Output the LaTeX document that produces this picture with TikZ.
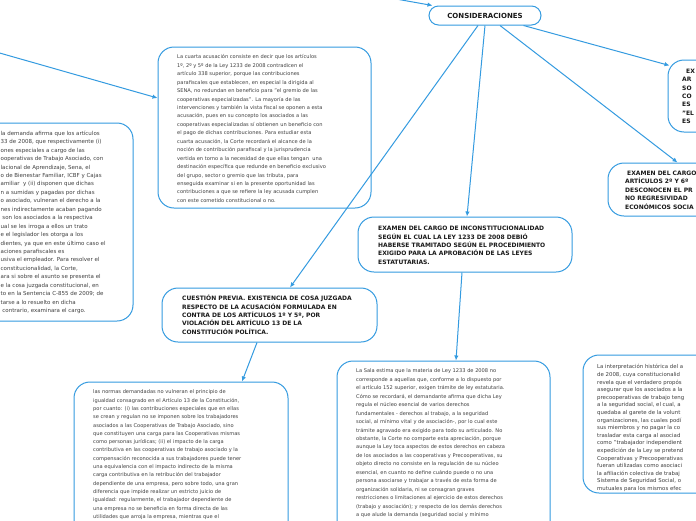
\documentclass[tikz,border=0pt]{standalone}
\usepackage{fontspec}
\setmainfont{DejaVu Sans}
\usetikzlibrary{arrows.meta,calc}
\definecolor{mmblue}{RGB}{52,155,224}
\definecolor{mmtext}{RGB}{64,64,64}
\begin{document}
\begin{tikzpicture}[x=1pt,y=-1pt,
  box/.style={draw=mmblue, line width=1pt, rounded corners=16pt, inner sep=0pt, fill=white},
  body/.style={font=\fontsize{5.1}{8.45}\selectfont, text=mmtext, align=left, inner sep=0pt, anchor=north west},
  leftbody/.style={font=\fontsize{5.5}{8.45}\selectfont, text=mmtext, align=left, inner sep=0pt, anchor=north west},
  smallbody/.style={font=\fontsize{5.4}{7.6}\selectfont, text=mmtext, align=left, inner sep=0pt, anchor=north west},
  head/.style={font=\fontsize{6}{8.4}\selectfont\bfseries, text=black!90, align=left, inner sep=0pt, anchor=north west},
  conn/.style={draw=mmblue, line width=1pt, -{Latex[length=5pt,width=4.5pt]}}]
\useasboundingbox (0,0) rectangle (696,520);
\clip (0,0) rectangle (696,520);
\fill[white] (0,0) rectangle (696,520);

% boxes
\node[box, rounded corners=9.5pt, minimum width=112pt, minimum height=19pt,
      font=\fontsize{7}{8}\selectfont\bfseries, text=black!90] (cons) at (485,15.5) {CONSIDERACIONES};
\node[box, minimum width=213pt, minimum height=161pt] (cuarta) at (264.5,127.5) {};
\node[box, minimum width=253pt, minimum height=198pt] (izq) at (6.5,222) {};
\node[box, minimum width=214pt, minimum height=55pt] (examenA) at (465,244.5) {};
\node[box, minimum width=215pt, minimum height=54pt] (cuest) at (269.5,315) {};
\node[box, minimum width=214pt, minimum height=258pt] (normas) at (181,511) {};
\node[box, minimum width=213pt, minimum height=279pt] (sala) at (443.5,500.5) {};
\node[box, minimum width=217pt, minimum height=138pt] (interp) at (691.5,424) {};
\node[box, minimum width=212pt, minimum height=53pt] (examenB) at (714,189.5) {};
\node[box, minimum width=212pt, minimum height=72pt] (sup) at (774,96) {};

% off-canvas sources
\coordinate (srcA) at (295,-19);
\coordinate (srcB) at (-60,36);

% connectors
\draw[conn] (srcA) -- ([xshift=4pt]cons.north west);
\draw[conn] (srcB) -- ([yshift=29.5pt]cuarta.west);
\draw[conn] ([xshift=-7pt]cons.south) -- ([xshift=20.5pt]cuest.north);
\draw[conn] (cons.south) -- ([xshift=2pt]examenA.north);
\draw[conn] ([xshift=15pt]cons.south) -- ([xshift=70pt]examenB.north west);
\draw[conn] ([xshift=-18pt]cons.south east) -- ([xshift=2pt,yshift=-6pt]sup.north west);
\draw[conn] ([xshift=-12.5pt]cuest.south) -- ([xshift=61pt]normas.north);
\draw[conn] ([xshift=-3pt]examenA.south) -- ([xshift=12.5pt]sala.north);

% texts
\node[body] (tcuarta) at (177,54.5) {La cuarta acusación consiste en decir que los artículos\\
1º, 2º y 5º de la Ley 1233 de 2008 contradicen el\\
artículo 338 superior, porque las contribuciones\\
parafiscales que establecen, en especial la dirigida al\\
SENA, no redundan en beneficio para "el gremio de las\\
cooperativas especializadas". La mayoría de las\\
intervenciones y también la vista fiscal se oponen a esta\\
acusación, pues en su concepto los asociados a las\\
cooperativas especializadas sí obtienen un beneficio con\\
el pago de dichas contribuciones. Para estudiar esta\\
cuarta acusación, la Corte recordará el alcance de la\\
noción de contribución parafiscal y la jurisprudencia\\
vertida en torno a la necesidad de que ellas tengan \ una\\
destinación específica que redunde en beneficio exclusivo\\
del grupo, sector o gremio que las tributa, para\\
enseguida examinar si en la presente oportunidad las\\
contribuciones a que se refiere la ley acusada cumplen\\
con este cometido constitucional o no.};

\node[leftbody] (tizq) at (0.5,130.6) {la demanda afirma que los artículos\\
33 de 2008, que respectivamente (i)\\
ones especiales a cargo de las\\
ooperativas de Trabajo Asociado, con\\
lacional de Aprendizaje, Sena, el\\
o de Bienestar Familiar, ICBF y Cajas\\
amiliar \ y (ii) disponen que dichas\\
n a sumidas y pagadas por dichas\\
o asociado, vulneran el derecho a la\\
nes indirectamente acaban pagando\\
\ son los asociados a la respectiva\\
ual se les irroga a ellos un trato\\
e el legislador les otorga a los\\
dientes, ya que en este último caso el\\
aciones parafiscales es\\
usiva el empleador. Para resolver el\\
constitucionalidad, la Corte,\\
ara si sobre el asunto se presenta el\\
e la cosa juzgada constitucional, en\\
to en la Sentencia C-855 de 2009; de\\
tarse a lo resuelto en dicha\\
\ contrario, examinara el cargo.};

\node[head] (texamenA) at (378,226.1) {EXAMEN DEL CARGO DE INCONSTITUCIONALIDAD\\
SEGÚN EL CUAL LA LEY 1233 DE 2008 DEBIÓ\\
HABERSE TRAMITADO SEGÚN EL PROCEDIMIENTO\\
EXIGIDO PARA LA APROBACIÓN DE LAS LEYES\\
ESTATUTARIAS.};

\node[head] (tcuest) at (182,295) {CUESTIÓN PREVIA. EXISTENCIA DE COSA JUZGADA\\
RESPECTO DE LA ACUSACIÓN FORMULADA EN\\
CONTRA DE LOS ARTÍCULOS 1º Y 5º, POR\\
VIOLACIÓN DEL ARTÍCULO 13 DE LA\\
CONSTITUCIÓN POLÍTICA.};

\node[body, font=\fontsize{5.1}{8.3}\selectfont] (tnormas) at (93,389.8) {las normas demandadas no vulneran el principio de\\
igualdad consagrado en el Artículo 13 de la Constitución,\\
por cuanto: (i) las contribuciones especiales que en ellas\\
se crean y regulan no se imponen sobre los trabajadores\\
asociados a las Cooperativas de Trabajo Asociado, sino\\
que constituyen una carga para las Cooperativas mismas\\
como personas jurídicas; (ii) el impacto de la carga\\
contributiva en las cooperativas de trabajo asociado y la\\
compensación reconocida a sus trabajadores puede tener\\
una equivalencia con el impacto indirecto de la misma\\
carga contributiva en la retribución del trabajador\\
dependiente de una empresa, pero sobre todo, una gran\\
diferencia que impide realizar un estricto juicio de\\
igualdad: regularmente, el trabajador dependiente de\\
una empresa no se beneficia en forma directa de las\\
utilidades que arroja la empresa, mientras que el};

\node[body] (tsala) at (356,368.8) {La Sala estima que la materia de Ley 1233 de 2008 no\\
corresponde a aquellas que, conforme a lo dispuesto por\\
el artículo 152 superior, exigen trámite de ley estatutaria.\\
Cómo se recordará, el demandante afirma que dicha Ley\\
regula el núcleo esencial de varios derechos\\
fundamentales - derechos al trabajo, a la seguridad\\
social, al mínimo vital y de asociación-, por lo cual este\\
trámite agravado era exigido para todo su articulado. No\\
obstante, la Corte no comparte esta apreciación, porque\\
aunque la Ley toca aspectos de estos derechos en cabeza\\
de los asociados a las cooperativas y Precooperativas, su\\
objeto directo no consiste en la regulación de su núcleo\\
esencial, en cuanto no define cuándo puede o no una\\
persona asociarse y trabajar a través de esta forma de\\
organización solidaria, ni se consagran graves\\
restricciones o limitaciones al ejercicio de estos derechos\\
(trabajo y asociación); y respecto de los demás derechos\\
a que alude la demanda (seguridad social y mínimo};

\node[smallbody] (tinterp) at (597,364.4) {La interpretación histórica del a\\
de 2008, cuya constitucionalid\\
revela que el verdadero propós\\
asegurar que los asociados a la\\
precooperativas de trabajo teng\\
a la seguridad social, el cual, a\\
quedaba al garete de la volunt\\
organizaciones, las cuales podí\\
sus miembros y no pagar la co\\
trasladar esta carga al asociad\\
como "trabajador independient\\
expedición de la Ley se pretend\\
Cooperativas y Precooperativas\\
fueran utilizadas como asociaci\\
la afiliación colectiva de trabaj\\
Sistema de Seguridad Social, o\\
mutuales para los mismos efec};

\node[head] (texamenB) at (625,170.8) {\hspace{2pt}EXAMEN DEL CARGO\\
ARTÍCULOS 2º Y 6º\\
DESCONOCEN EL PR\\
NO REGRESIVIDAD\\
ECONÓMICOS SOCIA};

\node[head] (tsup) at (682,68.8) {\hspace{4pt}EX\\
AR\\
SO\\
CO\\
ES\\
"EL\\
ES};
\end{tikzpicture}
\end{document}
